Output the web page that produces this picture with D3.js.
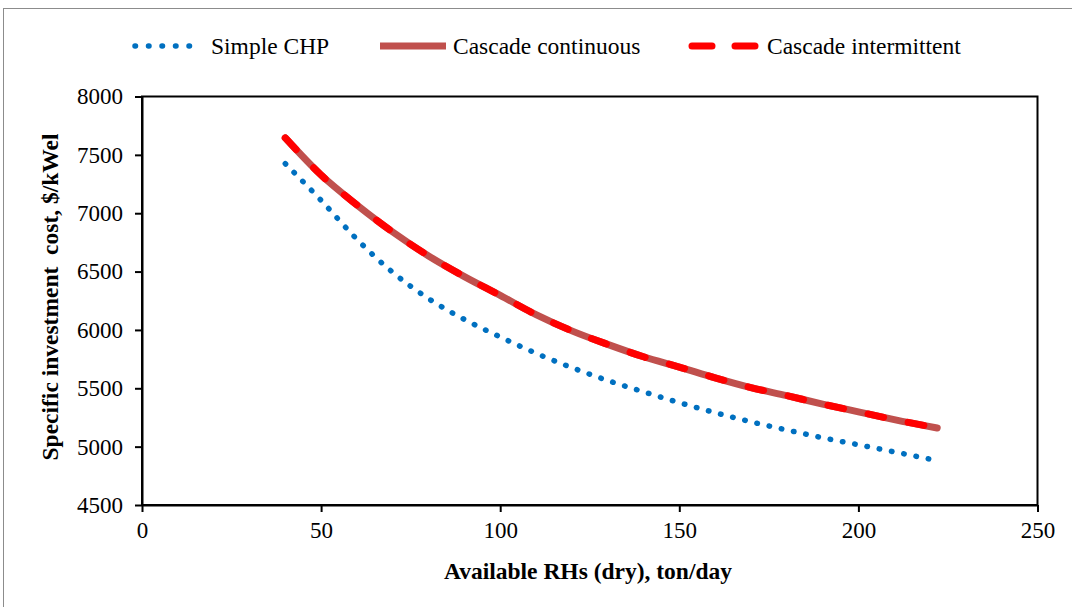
<!DOCTYPE html>
<html>
<head>
<meta charset="utf-8">
<script src="https://cdn.jsdelivr.net/npm/d3@7"></script>
<style>
  html, body { margin: 0; padding: 0; background: #fff; }
  svg { display: block; }
  text { font-family: "Liberation Serif", "Times New Roman", serif; fill: #000; }
</style>
</head>
<body>
<svg id="chart" width="1072" height="607"></svg>
<script>
// Available RHs (dry), ton/day
const feed = [40, 50, 60, 70, 80, 90, 100, 110, 120, 130, 140, 150, 160, 170, 180, 190, 200, 210, 222];
// Specific investment cost, $/kWel
const simpleCHP = [7425, 7110, 6777, 6493, 6268, 6090, 5940, 5800, 5677, 5567, 5470, 5377, 5291, 5213, 5143, 5076, 5016, 4955, 4880];
const cascadeContinuous = [7645, 7327, 7071, 6839, 6634, 6457, 6296, 6131, 5992, 5876, 5770, 5682, 5590, 5506, 5437, 5365, 5298, 5232, 5160];
const cascadeIntermittent = [7645, 7327, 7071, 6839, 6634, 6457, 6296, 6131, 5992, 5876, 5770, 5682, 5590, 5506, 5437, 5365, 5298, 5232, 5160];

const xTicks = [0, 50, 100, 150, 200, 250];
const yTicks = [4500, 5000, 5500, 6000, 6500, 7000, 7500, 8000];

const seriesNames = ["Simple CHP", "Cascade continuous", "Cascade intermittent"];

const svg = d3.select("#chart");

// outer chart frame
svg.append("rect")
  .attr("x", 3.5).attr("y", 8.5)
  .attr("width", 1090).attr("height", 620)
  .attr("fill", "none").attr("stroke", "#8c8c8c").attr("stroke-width", 1);

const x = d3.scaleLinear().domain([0, 250]).range([142, 1037.5]);
const y = d3.scaleLinear().domain([4500, 8000]).range([505, 96.5]);

// plot area box
svg.append("rect")
  .attr("x", x(0)).attr("y", y(8000))
  .attr("width", x(250) - x(0)).attr("height", y(4500) - y(8000))
  .attr("fill", "none").attr("stroke", "#000").attr("stroke-width", 2);

// axes
const xAxis = svg.append("g")
  .attr("transform", `translate(0,${y(4500)})`)
  .call(d3.axisBottom(x).tickValues(xTicks).tickSizeOuter(0).tickSizeInner(7).tickPadding(10).tickFormat(d3.format("d")));
const yAxis = svg.append("g")
  .attr("transform", `translate(${x(0)},0)`)
  .call(d3.axisLeft(y).tickValues(yTicks).tickSizeOuter(0).tickSizeInner(7).tickPadding(12).tickFormat(d3.format("d")));

[xAxis, yAxis].forEach(g => {
  g.select(".domain").attr("stroke", "#000").attr("stroke-width", 2);
  g.selectAll(".tick line").attr("stroke", "#000").attr("stroke-width", 2);
  g.selectAll(".tick text")
    .attr("font-family", "Liberation Serif, Times New Roman, serif")
    .attr("font-size", 23).attr("fill", "#000");
});

// axis titles
svg.append("text")
  .attr("x", 588).attr("y", 579)
  .attr("text-anchor", "middle")
  .attr("font-size", 23.5).attr("font-weight", "bold")
  .text("Available RHs (dry), ton/day");

svg.append("text")
  .attr("transform", "translate(58,297) rotate(-90)")
  .attr("text-anchor", "middle")
  .attr("font-size", 23.5).attr("font-weight", "bold")
  .attr("xml:space", "preserve")
  .text("Specific investment  cost, $/kWel");

const line = d3.line()
  .x((d, i) => x(feed[i]))
  .y(d => y(d))
  .curve(d3.curveMonotoneX);

const styles = [
  { color: "#0070C0", width: 5.5, dash: "0.5 12", cap: "round" },
  { color: "#C0504D", width: 7, dash: null, cap: "round" },
  { color: "#FF0000", width: 7, dash: "16 25", cap: "round" }
];

const data = [simpleCHP, cascadeContinuous, cascadeIntermittent];

data.forEach((vals, k) => {
  const s = styles[k];
  svg.append("path")
    .datum(vals)
    .attr("d", line)
    .attr("fill", "none")
    .attr("stroke", s.color)
    .attr("stroke-width", s.width)
    .attr("stroke-linecap", s.cap)
    .attr("stroke-linejoin", "round")
    .attr("stroke-dasharray", s.dash);
});

// legend
const legendItems = [
  { x1: 135, x2: 200, tx: 211 },
  { x1: 380, x2: 446, tx: 453 },
  { x1: 692, x2: 755, tx: 767 }
];
const ly = 46;
legendItems.forEach((it, k) => {
  const s = styles[k];
  svg.append("line")
    .attr("x1", it.x1).attr("x2", it.x2)
    .attr("y1", ly).attr("y2", ly)
    .attr("stroke", s.color)
    .attr("stroke-width", s.width)
    .attr("stroke-linecap", k === 1 ? "butt" : s.cap)
    .attr("stroke-dasharray", k === 0 ? "0.5 13" : (k === 2 ? "20 23" : null));
  svg.append("text")
    .attr("x", it.tx).attr("y", ly + 8)
    .attr("font-size", 23.5)
    .text(seriesNames[k]);
});
</script>
</body>
</html>
